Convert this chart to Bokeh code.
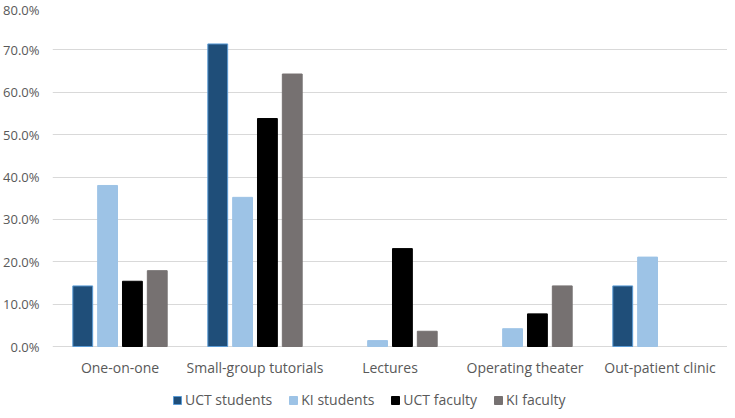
from bokeh.plotting import figure
from bokeh.models import (FactorRange, ColumnDataSource, FixedTicker, NumeralTickFormatter, Legend,
                          LegendItem, Range1d)
from bokeh.core.properties import value
from bokeh.transform import dodge
from bokeh.embed import file_html
from bokeh.resources import INLINE

categories = ["One-on-one", "Small-group tutorials", "Lectures", "Operating theater", "Out-patient clinic"]
uct_students = [0.143, 0.714, 0.0, 0.0, 0.143]
ki_students = [0.380, 0.352, 0.014, 0.042, 0.211]
uct_faculty = [0.154, 0.538, 0.231, 0.077, 0.0]
ki_faculty = [0.179, 0.643, 0.036, 0.143, 0.0]
series_names = ["UCT students", "KI students", "UCT faculty", "KI faculty"]
y_ticks = [0.0, 0.1, 0.2, 0.3, 0.4, 0.5, 0.6, 0.7, 0.8]

series = [uct_students, ki_students, uct_faculty, ki_faculty]
data = dict(cat=categories, base=[0.0] * len(categories))
for i, s in enumerate(series):
    data["s%d" % i] = s
    data["a%d" % i] = [1.0 if v > 0 else 0.0 for v in s]
source = ColumnDataSource(data)

FONT = "Open Sans"
TXT = "#595959"

# frame extends below zero to hold the category labels and the legend
p = figure(x_range=FactorRange(*categories, range_padding=0), y_range=Range1d(-0.151, 0.8),
           width=727, height=410, output_backend="svg", toolbar_location=None,
           min_border_left=45, min_border_right=0, min_border_top=7, min_border_bottom=0)
p.outline_line_color = None

fills = ["#1F4E79", "#9DC3E6", "#000000", "#767171"]
lines = ["#5B9BD5", "#9DC3E6", "#000000", "#767171"]
offsets = [-0.276, -0.092, 0.092, 0.276]
renderers = []
for i in range(4):
    r = p.vbar(x=dodge("cat", offsets[i], range=p.x_range), top="s%d" % i, width=0.147, source=source,
               fill_color=fills[i], line_color=lines[i], line_width=1, line_alpha="a%d" % i)
    renderers.append(r)

# category labels under the zero line
p.text(x="cat", y="base", text="cat", source=source, text_font=value(FONT), text_font_size="14px",
       text_color=TXT, text_align="center", text_baseline="top", y_offset=11)

p.xaxis.visible = False
p.xgrid.grid_line_color = None
p.ygrid.grid_line_color = "#D9D9D9"
p.ygrid.grid_line_width = 1
p.yaxis.ticker = FixedTicker(ticks=y_ticks)
p.yaxis.formatter = NumeralTickFormatter(format="0.0%")
ax = p.yaxis[0]
ax.axis_line_color = None
ax.major_tick_line_color = None
ax.minor_tick_line_color = None
ax.major_label_text_font = FONT
ax.major_label_text_color = TXT
ax.major_label_text_font_size = "13px"
ax.major_label_standoff = 7

legend = Legend(items=[LegendItem(label=series_names[i], renderers=[renderers[i]]) for i in range(4)],
                orientation="horizontal", location=(120, 1))
legend.label_text_font = FONT
legend.label_text_font_size = "14px"
legend.label_text_color = TXT
legend.glyph_width = 10
legend.glyph_height = 10
legend.label_standoff = 3
legend.spacing = 16
legend.padding = 0
legend.margin = 0
legend.border_line_color = None
legend.background_fill_alpha = 0
p.add_layout(legend, "center")

open("out.html", "w").write(file_html(p, INLINE))
